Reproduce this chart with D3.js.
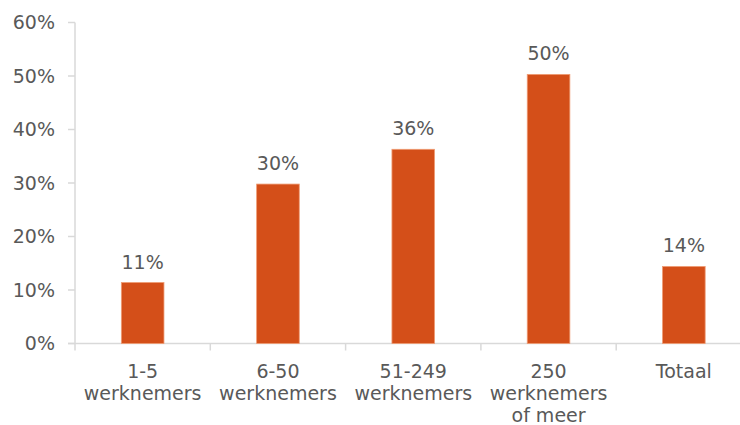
<!DOCTYPE html>
<html>
<head>
<meta charset="utf-8">
<script src="https://cdn.jsdelivr.net/npm/d3@7"></script>
<style>
  body { margin: 0; background: #fff; }
  text { font-family: "DejaVu Sans", Verdana, sans-serif; fill: #595959; }
</style>
</head>
<body>
<svg class="barsvg" width="740" height="425"></svg>
<script>
var categories = [["1-5", "werknemers"], ["6-50", "werknemers"], ["51-249", "werknemers"], ["250", "werknemers", "of meer"], ["Totaal"]];
var values = [11.4, 29.8, 36.3, 50.3, 14.4];
var labels = ["11%", "30%", "36%", "50%", "14%"];
var yTicks = [0, 10, 20, 30, 40, 50, 60];

var svg = d3.select(".barsvg");
var plotLeft = 75, plotTop = 22.5, plotBottom = 343.5, step = 135.3;
var keys = categories.map(function(d, i) { return i; });

var xScale = d3.scaleBand()
    .domain(keys)
    .range([plotLeft, plotLeft + step * keys.length])
    .paddingInner(0.685)
    .paddingOuter(0.3425);
var yScale = d3.scaleLinear().domain([0, 60]).range([plotBottom, plotTop]);
var gap = xScale.step() * xScale.paddingInner() / 2;

// y axis
var yAxis = svg.append("g");
yAxis.append("line")
    .attr("x1", plotLeft).attr("x2", plotLeft)
    .attr("y1", yScale(60)).attr("y2", plotBottom)
    .attr("stroke", "#d9d9d9").attr("stroke-width", 1.5);
yAxis.selectAll(".ytick")
    .data(yTicks)
    .enter()
    .append("line")
    .attr("x1", plotLeft - 7).attr("x2", plotLeft)
    .attr("y1", function(d) { return yScale(d); })
    .attr("y2", function(d) { return yScale(d); })
    .attr("stroke", "#d9d9d9").attr("stroke-width", 1.5);
yAxis.selectAll(".ylab")
    .data(yTicks)
    .enter()
    .append("text")
    .attr("x", 55)
    .attr("y", function(d) { return yScale(d); })
    .attr("dy", "0.36em")
    .attr("text-anchor", "end")
    .style("font-size", "19px")
    .text(function(d) { return d + "%"; });

// x axis
var xAxis = svg.append("g");
xAxis.append("line")
    .attr("x1", plotLeft - 7).attr("x2", 740)
    .attr("y1", plotBottom).attr("y2", plotBottom)
    .attr("stroke", "#d9d9d9").attr("stroke-width", 1.5);
xAxis.selectAll(".xtick")
    .data(keys)
    .enter()
    .append("line")
    .attr("x1", function(d) { return xScale(d) - gap; })
    .attr("x2", function(d) { return xScale(d) - gap; })
    .attr("y1", plotBottom).attr("y2", plotBottom + 7)
    .attr("stroke", "#d9d9d9").attr("stroke-width", 1.5);
var xl = xAxis.selectAll(".xlab")
    .data(keys)
    .enter()
    .append("text")
    .attr("text-anchor", "middle")
    .style("font-size", "19px")
    .attr("transform", function(d) { return "translate(" + (xScale(d) + xScale.bandwidth() / 2) + ",378)"; });
xl.selectAll("tspan")
    .data(function(d) { return categories[d]; })
    .enter()
    .append("tspan")
    .attr("x", 0)
    .attr("y", function(d, i) { return i * 22; })
    .text(function(d) { return d; });

// bars
svg.selectAll("rect")
    .data(keys)
    .enter()
    .append("rect")
    .attr("x", function(d) { return xScale(d); })
    .attr("y", function(d) { return yScale(values[d]); })
    .attr("width", xScale.bandwidth())
    .attr("height", function(d) { return plotBottom - yScale(values[d]); })
    .style("fill", "#d44f19")
    .style("stroke", "#ef9c74")
    .style("stroke-width", 0.8);

svg.selectAll(".val")
    .data(keys)
    .enter()
    .append("text")
    .attr("class", "val")
    .attr("x", function(d) { return xScale(d) + xScale.bandwidth() / 2; })
    .attr("y", function(d) { return yScale(values[d]) - 14; })
    .attr("text-anchor", "middle")
    .style("font-size", "19px")
    .text(function(d) { return labels[d]; });
</script>
</body>
</html>
